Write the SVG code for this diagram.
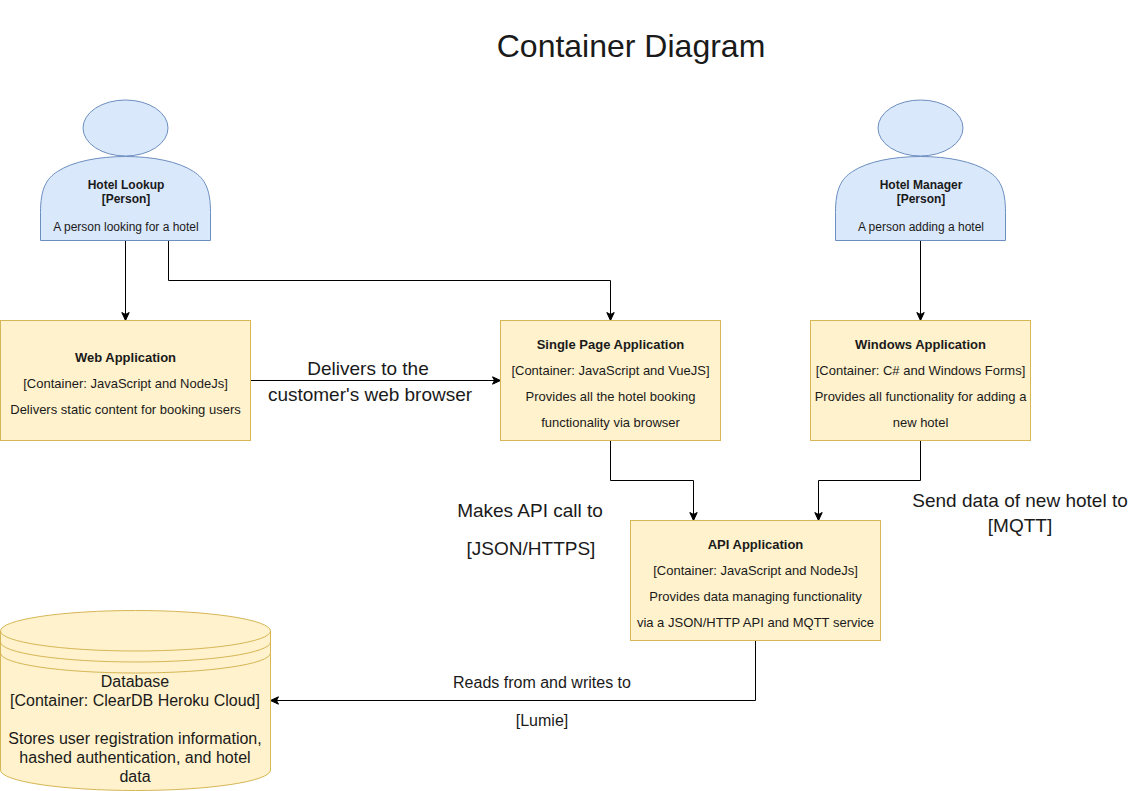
<svg xmlns="http://www.w3.org/2000/svg" width="1129" height="791" viewBox="0 0 1129 791">
<defs>
<marker id="arrow" markerWidth="10" markerHeight="10" refX="8" refY="4.5" orient="auto" markerUnits="userSpaceOnUse"><path d="M0.5 0.8 L8.5 4.5 L0.5 8.2 L2.5 4.5 Z" fill="#000" stroke="#000" stroke-width="1"/></marker>
<path id="body" d="M0 84 V56 C0 32 6 22 17 15 C32 5 58 0 85 0 C112 0 138 5 153 15 C164 22 170 32 170 56 V84 Z"/>
</defs>
<style>
text{font-family:"Liberation Sans",Arial,Helvetica,sans-serif;fill:#1a1a1a;text-anchor:middle}
.person{fill:#dae8fc;stroke:#6c8ebf;stroke-width:1}
.box{fill:#fff2cc;stroke:#d6b656;stroke-width:1}
.p{font-size:12px}
.pb{font-size:12px;font-weight:bold}
.s{font-size:13px}
.b{font-size:13px;font-weight:bold}
.m{font-size:16px}
.n{font-size:16px}
.l{font-size:19px}
.conn{fill:none;stroke:#000;stroke-width:1;marker-end:url(#arrow)}
</style>
<rect width="1129" height="791" fill="#fff"/>
<text x="631" y="57" style="font-size:32px">Container Diagram</text>
<g id="connectors">
<path class="conn" d="M125.5 240.5 V320"/>
<path class="conn" d="M168.5 240.5 V280.5 H610.5 V320"/>
<path class="conn" d="M920.5 240.5 V320"/>
<path class="conn" d="M250.5 380.5 H500"/>
<path class="conn" d="M610.5 440.5 V480.5 H693.5 V520"/>
<path class="conn" d="M920.5 440.5 V480.5 H818.5 V520"/>
<path class="conn" d="M755.5 640.5 V700.5 H271"/>
</g>
<g id="hotel-lookup">
<ellipse class="person" cx="125.5" cy="128" rx="42.5" ry="28"/>
<use href="#body" x="40.5" y="156.5" class="person"/>
<text class="pb" x="126" y="189">Hotel Lookup</text>
<text class="pb" x="126" y="203">[Person]</text>
<text class="p" x="126" y="231">A person looking for a hotel</text>
</g>
<g id="hotel-manager">
<ellipse class="person" cx="920.5" cy="128" rx="42.5" ry="28"/>
<use href="#body" x="835.5" y="156.5" class="person"/>
<text class="pb" x="921" y="189">Hotel Manager</text>
<text class="pb" x="921" y="203">[Person]</text>
<text class="p" x="921" y="231">A person adding a hotel</text>
</g>
<g id="web-application">
<rect class="box" x="0.5" y="320.5" width="250" height="120"/>
<text class="b" x="125.5" y="362">Web Application</text>
<text class="s" x="125.5" y="388">[Container: JavaScript and NodeJs]</text>
<text class="s" x="125.5" y="414">Delivers static content for booking users</text>
</g>
<g id="single-page-application">
<rect class="box" x="500.5" y="320.5" width="220" height="120"/>
<text class="b" x="610.5" y="349">Single Page Application</text>
<text class="s" x="610.5" y="375">[Container: JavaScript and VueJS]</text>
<text class="s" x="610.5" y="401">Provides all the hotel booking</text>
<text class="s" x="610.5" y="427">functionality via browser</text>
</g>
<g id="windows-application">
<rect class="box" x="810.5" y="320.5" width="220" height="120"/>
<text class="b" x="920.5" y="349">Windows Application</text>
<text class="s" x="920.5" y="375">[Container: C# and Windows Forms]</text>
<text class="s" x="920.5" y="401">Provides all functionality for adding a</text>
<text class="s" x="920.5" y="427">new hotel</text>
</g>
<g id="api-application">
<rect class="box" x="630.5" y="520.5" width="250" height="120"/>
<text class="b" x="755.5" y="549">API Application</text>
<text class="s" x="755.5" y="575">[Container: JavaScript and NodeJs]</text>
<text class="s" x="755.5" y="601">Provides data managing functionality</text>
<text class="s" x="755.5" y="627">via a JSON/HTTP API and MQTT service</text>
</g>
<g id="database">
<path class="box" d="M0.5 631 A135 20.5 0 0 1 270.5 631 V770 A135 20.5 0 0 1 0.5 770 Z"/>
<path d="M0.5 631 A135 20 0 0 0 270.5 631 M0.5 642 A135 20 0 0 0 270.5 642 M0.5 653 A135 20 0 0 0 270.5 653" fill="none" stroke="#d6b656"/>
<text class="n" x="135" y="687">Database</text>
<text class="n" x="135" y="706">[Container: ClearDB Heroku Cloud]</text>
<text class="n" x="135" y="744">Stores user registration information,</text>
<text class="n" x="135" y="763">hashed authentication, and hotel</text>
<text class="n" x="135" y="782">data</text>
</g>
<g id="labels">
<text class="l" x="368" y="375">Delivers to the</text>
<text class="l" x="370" y="401">customer's web browser</text>
<text class="l" x="530" y="517">Makes API call to</text>
<text class="l" x="531" y="555">[JSON/HTTPS]</text>
<text class="l" x="1020" y="507">Send data of new hotel to</text>
<text class="l" x="1020" y="532">[MQTT]</text>
<text class="m" x="542" y="688">Reads from and writes to</text>
<text class="m" x="542" y="726">[Lumie]</text>
</g>
</svg>
